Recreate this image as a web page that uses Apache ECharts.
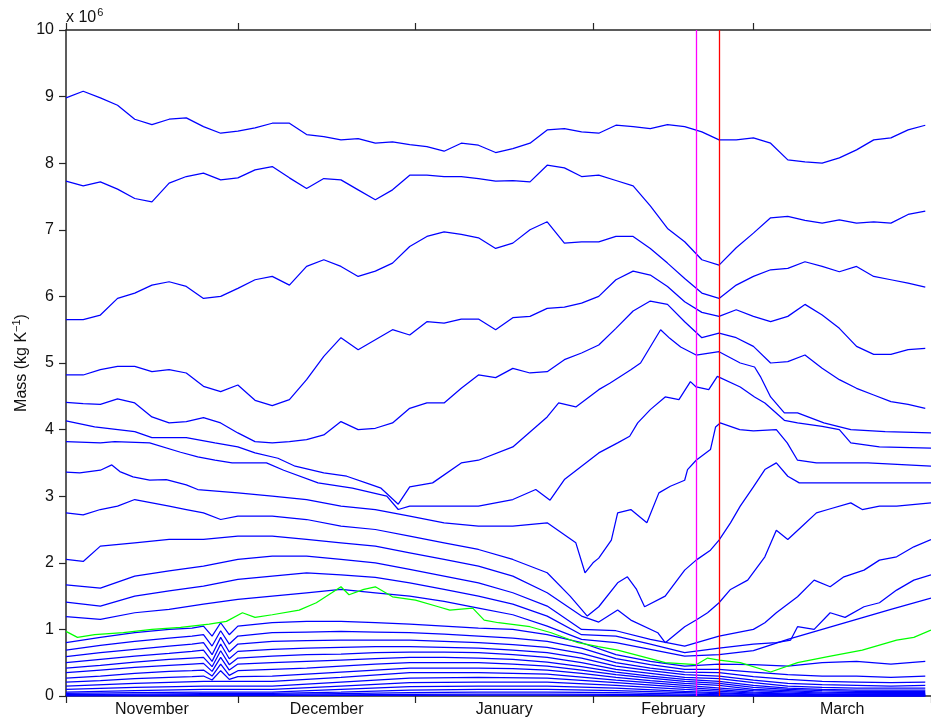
<!DOCTYPE html>
<html>
<head>
<meta charset="utf-8">
<script src="https://cdn.jsdelivr.net/npm/echarts@6/dist/echarts.min.js"></script>
<style>
html,body{margin:0;padding:0;background:#fff;}
#chart{width:931px;height:721px;}
</style>
</head>
<body>
<div id="chart"></div>
<script>
// Days counted from 1 November; layer mass in units of 1e6 kg/K.
const monthNames = ['November', 'December', 'January', 'February', 'March'];
const monthStarts = [0, 30, 61, 92, 120, 151];
const monthMids = [15, 45.5, 76.5, 106, 135.5];
const eventDays = [110, 114];

const days3 = [0,3,6,9,12,15,18,21,24,27,30,33,36,39,42,45,48,51,54,57,60,63,66,69,72,75,78,81,84,87,90,93,96,99,102,105,108,111,114,117,120,123,126,129,132,135,138,141,144,147,150];
const daysFine = [0,6,12,18,22,24,25.5,27,28.5,30,36,42,48,54,60,66,72,78,84,90,96,102,108,114,120,126,132,138,144,150];
const daysCoarse = [0,12,24,36,48,60,72,84,96,108,120,132,144,150];

const layerA = [8.98,9.08,8.98,8.87,8.66,8.58,8.66,8.68,8.55,8.45,8.48,8.53,8.60,8.60,8.43,8.40,8.35,8.37,8.30,8.32,8.28,8.25,8.18,8.30,8.27,8.16,8.22,8.30,8.50,8.52,8.47,8.45,8.57,8.55,8.52,8.58,8.55,8.47,8.35,8.35,8.38,8.30,8.05,8.02,8.00,8.08,8.20,8.35,8.38,8.50,8.57];
const layerB = [7.73,7.66,7.72,7.61,7.47,7.42,7.70,7.80,7.85,7.75,7.78,7.90,7.95,7.78,7.62,7.77,7.75,7.60,7.45,7.60,7.82,7.82,7.80,7.80,7.77,7.73,7.74,7.72,7.97,7.93,7.80,7.82,7.74,7.66,7.36,7.02,6.82,6.55,6.47,6.73,6.95,7.18,7.20,7.14,7.10,7.15,7.10,7.12,7.10,7.23,7.28];
const layerC = [5.65,5.65,5.72,5.97,6.05,6.17,6.22,6.15,5.97,6.00,6.12,6.25,6.30,6.17,6.45,6.55,6.45,6.30,6.38,6.50,6.75,6.90,6.97,6.93,6.88,6.72,6.80,7.00,7.12,6.80,6.82,6.82,6.90,6.90,6.72,6.50,6.27,6.05,5.97,6.17,6.30,6.40,6.42,6.52,6.45,6.37,6.45,6.30,6.25,6.20,6.14];
const layerD = [4.82,4.82,4.90,4.95,4.95,4.87,4.90,4.85,4.65,4.57,4.67,4.44,4.36,4.45,4.75,5.10,5.38,5.20,5.35,5.50,5.42,5.62,5.60,5.66,5.66,5.50,5.68,5.70,5.82,5.84,5.90,6.00,6.25,6.38,6.32,6.15,5.92,5.76,5.70,5.80,5.70,5.62,5.70,5.88,5.72,5.52,5.25,5.13,5.13,5.20,5.22];
const layerE = [4.41,4.39,4.38,4.46,4.40,4.19,4.10,4.12,4.18,4.10,3.95,3.82,3.80,3.82,3.85,3.92,4.12,4.00,4.02,4.10,4.32,4.40,4.40,4.62,4.82,4.78,4.92,4.85,4.87,5.05,5.15,5.27,5.52,5.78,5.93,5.88,5.62,5.38,5.45,5.38,5.25,5.00,5.02,5.12,4.92,4.75,4.62,4.52,4.42,4.38,4.32];

// [day, mass] samples for the middle layers
const layerF = [[0,4.13],[5,4.04],[12,3.97],[15,3.88],[21,3.88],[26,3.8],[30,3.74],[33,3.65],[37,3.57],[40,3.45],[45,3.35],[49,3.3],[53,3.18],[55,3.12],[58,2.88],[60,3.14],[64,3.2],[69,3.5],[72,3.54],[78,3.74],[84,4.19],[86,4.4],[89,4.34],[93,4.6],[95,4.7],[98.6,4.9],[100.3,5.0],[103.8,5.5],[105.4,5.37],[107.3,5.24],[110,5.12],[114,5.17],[117.7,5.0],[120.2,4.94],[121.2,4.8],[123,4.49],[125.4,4.25],[127.7,4.25],[132.3,4.1],[137,4.0],[143,3.97],[151,3.95]];
const layerG = [[0,3.82],[6,3.8],[8.5,3.82],[14.6,3.8],[20,3.66],[23,3.59],[26,3.54],[29,3.5],[35,3.5],[38,3.39],[44,3.2],[50,3.12],[56,3.0],[58,2.8],[60,2.85],[66,2.85],[72,2.85],[78,2.95],[82,3.1],[84.5,2.94],[87,3.25],[90,3.45],[93,3.65],[96.3,3.8],[98.4,3.9],[99.8,4.1],[102,4.3],[104.6,4.49],[107,4.45],[109,4.72],[110,4.64],[112.2,4.6],[113.7,4.8],[117.7,4.64],[120.2,4.49],[122,4.4],[125.4,4.14],[127.7,4.1],[132,4.05],[135,4.0],[137,3.8],[142,3.74],[151,3.72]];
const layerH = [[0,3.36],[2.4,3.35],[6,3.39],[8,3.47],[9.4,3.37],[11.7,3.29],[14.6,3.24],[17.5,3.25],[21,3.17],[23,3.1],[30,3.05],[36,3.0],[42,2.95],[48,2.85],[54,2.8],[60,2.7],[66,2.6],[72,2.55],[78,2.55],[84,2.6],[89,2.3],[90.6,1.85],[92,2.0],[93,2.07],[95.2,2.34],[96.3,2.75],[98.6,2.8],[101.4,2.6],[103.5,3.05],[105.5,3.15],[108,3.24],[108.5,3.4],[110,3.54],[112.5,3.7],[113.4,4.04],[114.2,4.1],[117.6,4.0],[120,3.98],[124,4.0],[125.9,3.8],[127.7,3.54],[131,3.5],[140,3.5],[151,3.45]];
const layerI = [[0,2.75],[3,2.72],[6,2.8],[9,2.85],[12,2.95],[15,2.9],[18,2.85],[21,2.8],[24,2.75],[27,2.65],[30,2.7],[36,2.7],[42,2.65],[48,2.55],[54,2.5],[60,2.4],[66,2.3],[72,2.2],[78,2.05],[84,1.85],[88,1.5],[91,1.2],[93,1.34],[96.3,1.7],[98,1.79],[99.6,1.6],[101,1.34],[104.6,1.5],[108,1.89],[110,2.04],[112.5,2.19],[114,2.34],[116,2.6],[117.7,2.85],[120,3.14],[122,3.4],[124,3.5],[126,3.3],[128,3.2],[140,3.2],[151,3.2]];
const layerJ = [[0,2.05],[3,2.02],[6,2.25],[12,2.3],[18,2.35],[24,2.35],[30,2.4],[36,2.4],[42,2.35],[48,2.3],[54,2.25],[60,2.15],[66,2.05],[72,1.95],[78,1.8],[84,1.55],[90,1.2],[93,1.11],[96.3,1.29],[98.6,1.14],[103.3,0.95],[104.6,0.8],[108,1.04],[110,1.14],[112,1.25],[114,1.4],[116,1.6],[119,1.74],[122,2.09],[124,2.49],[126,2.35],[128.5,2.55],[131,2.75],[133,2.8],[137,2.9],[139,2.8],[142,2.85],[145,2.85],[151,2.9]];
const layerK = [[0,1.67],[6,1.62],[12,1.8],[18,1.88],[24,1.95],[30,2.05],[36,2.1],[42,2.1],[48,2.05],[54,2.0],[60,1.9],[66,1.8],[72,1.7],[78,1.55],[84,1.35],[90,1.0],[96,0.98],[102,0.85],[108,0.75],[114,0.9],[120,1.0],[122,1.1],[124,1.25],[127.7,1.49],[130.6,1.74],[133.4,1.64],[135.8,1.79],[139.3,1.89],[142,2.04],[145,2.09],[148,2.24],[151,2.35]];
const layerL = [[0,1.41],[6,1.35],[12,1.5],[18,1.58],[24,1.65],[30,1.75],[36,1.8],[42,1.85],[48,1.82],[54,1.78],[60,1.7],[66,1.6],[72,1.5],[78,1.38],[84,1.2],[90,0.92],[96,0.9],[102,0.78],[108,0.65],[114,0.72],[120,0.78],[124,0.8],[126.5,0.84],[127.7,1.04],[130.6,1.0],[133.4,1.25],[136,1.18],[139.3,1.34],[142,1.4],[145,1.59],[148,1.74],[151,1.82]];
const layerM = [[0,1.19],[6,1.15],[12,1.25],[18,1.3],[24,1.38],[30,1.45],[36,1.5],[42,1.55],[48,1.6],[54,1.55],[60,1.5],[66,1.42],[72,1.32],[78,1.22],[84,1.05],[90,0.85],[96,0.8],[102,0.7],[108,0.6],[114,0.62],[120,0.68],[126,0.85],[132,1.0],[138,1.15],[144,1.3],[151,1.47]];
const layerGreen = [[0,0.97],[2,0.88],[5,0.92],[10,0.95],[15,1.0],[20,1.03],[25,1.08],[28,1.12],[30.8,1.25],[33,1.18],[36,1.22],[40.7,1.29],[43.7,1.4],[46.4,1.55],[48,1.64],[49.4,1.52],[52,1.6],[54,1.64],[57,1.49],[61,1.44],[65,1.34],[67,1.29],[71,1.32],[73,1.14],[75.5,1.1],[81,1.04],[84.7,0.95],[89.4,0.8],[92.9,0.74],[96.3,0.69],[100.3,0.6],[104.6,0.5],[110,0.47],[112,0.57],[114,0.54],[117.7,0.5],[123,0.36],[127.7,0.5],[133,0.59],[139,0.69],[145,0.84],[148,0.88],[151,0.99]];

// lowest layers: upper eight on the finer day grid, the rest every 12 days
const bundleUpper = [
  [0.80,0.88,0.95,1.00,1.02,1.05,0.90,1.10,0.92,1.05,1.10,1.12,1.12,1.10,1.08,1.05,1.02,1.00,0.92,0.80,0.62,0.52,0.45,0.48,0.47,0.45,0.50,0.52,0.48,0.52],
  [0.69,0.76,0.82,0.87,0.90,0.92,0.75,0.98,0.78,0.90,0.95,0.96,0.97,0.96,0.95,0.93,0.90,0.87,0.82,0.72,0.56,0.47,0.40,0.40,0.36,0.32,0.30,0.30,0.28,0.30],
  [0.59,0.65,0.70,0.75,0.78,0.80,0.62,0.88,0.66,0.78,0.82,0.83,0.84,0.84,0.84,0.82,0.80,0.77,0.73,0.64,0.50,0.42,0.36,0.35,0.29,0.25,0.22,0.21,0.20,0.21],
  [0.50,0.55,0.60,0.64,0.67,0.69,0.52,0.78,0.56,0.67,0.70,0.72,0.73,0.74,0.74,0.73,0.72,0.69,0.65,0.57,0.45,0.38,0.32,0.30,0.24,0.19,0.17,0.16,0.15,0.16],
  [0.42,0.46,0.51,0.55,0.57,0.58,0.44,0.68,0.47,0.57,0.60,0.62,0.63,0.65,0.66,0.66,0.65,0.62,0.58,0.50,0.40,0.34,0.28,0.26,0.20,0.15,0.13,0.12,0.12,0.12],
  [0.35,0.39,0.43,0.46,0.48,0.49,0.37,0.58,0.39,0.48,0.50,0.52,0.54,0.56,0.58,0.58,0.57,0.55,0.51,0.44,0.36,0.30,0.25,0.22,0.16,0.12,0.10,0.09,0.09,0.09],
  [0.27,0.30,0.34,0.37,0.38,0.39,0.30,0.48,0.31,0.38,0.40,0.42,0.45,0.48,0.50,0.50,0.50,0.48,0.45,0.39,0.32,0.27,0.22,0.19,0.13,0.10,0.08,0.07,0.07,0.07],
  [0.21,0.23,0.26,0.28,0.29,0.30,0.24,0.38,0.25,0.29,0.30,0.33,0.36,0.39,0.42,0.42,0.42,0.41,0.39,0.34,0.28,0.23,0.19,0.16,0.10,0.08,0.06,0.05,0.05,0.05]
];
const bundleLower = [
  [0.15,0.19,0.22,0.22,0.28,0.35,0.35,0.33,0.24,0.16,0.08,0.045,0.04,0.04],
  [0.10,0.13,0.15,0.15,0.21,0.27,0.28,0.27,0.20,0.13,0.06,0.03,0.03,0.03],
  [0.06,0.08,0.10,0.10,0.15,0.20,0.21,0.21,0.16,0.10,0.045,0.02,0.02,0.02],
  [0.04,0.05,0.06,0.06,0.10,0.14,0.15,0.15,0.12,0.07,0.03,0.015,0.015,0.015],
  [0.02,0.03,0.035,0.04,0.06,0.09,0.10,0.10,0.08,0.05,0.02,0.01,0.01,0.01],
  [0.01,0.015,0.02,0.025,0.035,0.05,0.06,0.06,0.05,0.03,0.01,0.005,0.005,0.005],
  [0.005,0.008,0.01,0.012,0.018,0.025,0.03,0.03,0.025,0.015,0.005,0,0,0],
  [0.002,0.003,0.004,0.005,0.008,0.01,0.012,0.012,0.01,0.005,0,0,0,0]
];

const FONT = '"Liberation Sans", Arial, Helvetica, sans-serif';
const AXIS = '#262626';
const BLUE = '#0000ff';
const LINE_W = 1.25;

function zipDays(days, vals) {
  const out = [];
  for (let i = 0; i < vals.length && i < days.length; i++) out.push([days[i], vals[i]]);
  return out;
}
function layerSeries(data, color) {
  return {
    type: 'line', data: data, showSymbol: false, silent: true,
    lineStyle: { color: color, width: LINE_W }, itemStyle: { color: color }, z: 2
  };
}

const series = [];
bundleLower.slice().reverse().forEach(v => series.push(layerSeries(zipDays(daysCoarse, v), BLUE)));
bundleUpper.slice().reverse().forEach(v => series.push(layerSeries(zipDays(daysFine, v), BLUE)));
[layerA, layerB, layerC, layerD, layerE].forEach(v => series.push(layerSeries(zipDays(days3, v), BLUE)));
[layerF, layerG, layerH, layerI, layerJ, layerK, layerL, layerM].forEach(v => series.push(layerSeries(v, BLUE)));
series.push(layerSeries(layerGreen, '#00ff00'));

// event markers
series.push({
  type: 'line', data: [], silent: true, z: 5,
  markLine: {
    silent: true, symbol: ['none', 'none'], animation: false,
    label: { show: false },
    data: [
      { xAxis: eventDays[0], lineStyle: { color: '#ff00ff', width: 1.3, type: 'solid' } },
      { xAxis: eventDays[1], lineStyle: { color: '#ff0000', width: 1.3, type: 'solid' } }
    ]
  }
});

const chart = echarts.init(document.getElementById('chart'), null, { renderer: 'canvas' });
chart.setOption({
  animation: false,
  backgroundColor: '#ffffff',
  textStyle: { fontFamily: FONT },
  grid: { left: 66, top: 30, width: 868, height: 666, containLabel: false },
  xAxis: [
    {
      type: 'value', min: 0, max: 151, position: 'bottom',
      axisLine: { show: true, onZero: false, lineStyle: { color: AXIS, width: 1.5 } },
      axisTick: { show: true, inside: false, length: 7, customValues: monthStarts, lineStyle: { color: AXIS, width: 1.2 } },
      axisLabel: {
        show: true, customValues: monthMids, margin: 6, fontSize: 16, color: '#111', fontFamily: FONT,
        formatter: v => monthNames[monthMids.indexOf(v)] || ''
      },
      splitLine: { show: false }
    },
    {
      type: 'value', min: 0, max: 151, position: 'top',
      axisLine: { show: true, onZero: false, lineStyle: { color: AXIS, width: 1.5 } },
      axisTick: { show: true, inside: false, length: 7, customValues: monthStarts, lineStyle: { color: AXIS, width: 1.2 } },
      axisLabel: { show: false },
      splitLine: { show: false }
    }
  ],
  yAxis: {
    type: 'value', min: 0, max: 10, interval: 1,
    axisLine: { show: true, onZero: false, lineStyle: { color: AXIS, width: 1.5 } },
    axisTick: { show: true, inside: false, length: 7, lineStyle: { color: AXIS, width: 1.2 } },
    axisLabel: { fontSize: 16, margin: 12, color: '#111', fontFamily: FONT },
    splitLine: { show: false }
  },
  graphic: [
    {
      type: 'text', left: 66, top: 7,
      style: {
        text: '{a|x 10}{s|6}',
        rich: {
          a: { fontSize: 16, fontFamily: FONT, fill: '#111' },
          s: { fontSize: 11, fontFamily: FONT, fill: '#111', padding: [0, 0, 10, 1] }
        }
      }
    },
    {
      type: 'text', x: 22, y: 363, rotation: Math.PI / 2,
      style: {
        text: '{a|Mass (kg K}{s|\u22121}{a|)}',
        align: 'center', verticalAlign: 'middle',
        rich: {
          a: { fontSize: 16, fontFamily: FONT, fill: '#111' },
          s: { fontSize: 11, fontFamily: FONT, fill: '#111', padding: [0, 0, 10, 0] }
        }
      }
    }
  ],
  series: series
});
</script>
</body>
</html>
